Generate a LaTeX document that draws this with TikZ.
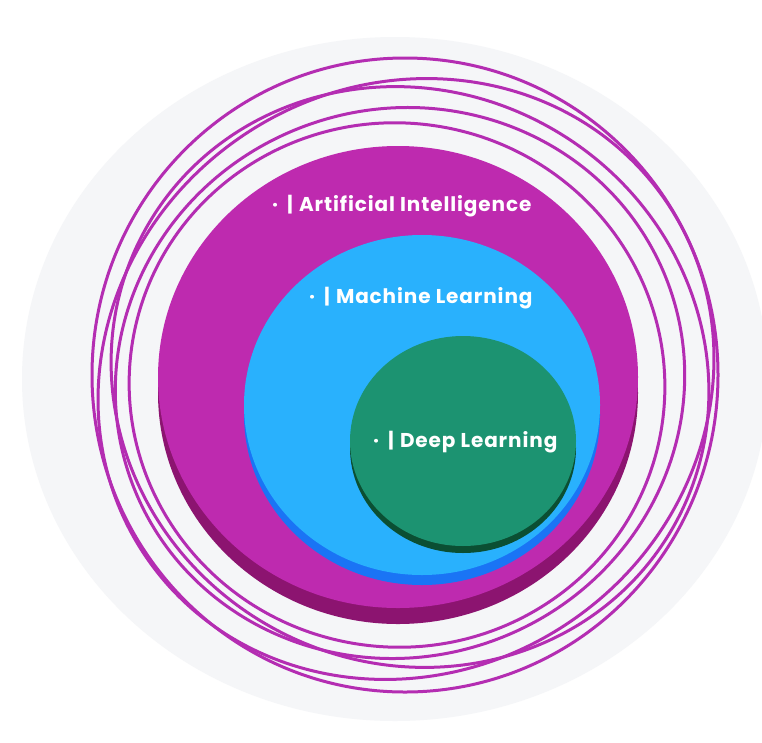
\documentclass[tikz,border=0pt]{standalone}
\usepackage{fontspec}
\setmainfont{Poppins}[LetterSpace=4.5]
\definecolor{bgring}{HTML}{F5F6F8}
\definecolor{aiface}{HTML}{BE2AAF}
\definecolor{airim}{HTML}{8C1470}
\definecolor{mlface}{HTML}{29B1FD}
\definecolor{mlrim}{HTML}{1A74F5}
\definecolor{dlface}{HTML}{1C9371}
\definecolor{dlrim}{HTML}{0B4F33}
\definecolor{ringc}{HTML}{B42DB2}
\tikzset{
  ring/.style={draw=ringc, line width=3pt},
  lbl/.style={anchor=base west, inner sep=0pt, text=white, font=\fontsize{20}{24}\selectfont\bfseries}
}
\begin{document}
\begin{tikzpicture}[x=1pt,y=-1pt]
\useasboundingbox (0,0) rectangle (762,742);
\fill[white] (0,0) rectangle (762,742);
\begin{scope}
\clip (0,0) rectangle (762,742);
\fill[bgring] (395,379) ellipse [x radius=373, y radius=342];
\end{scope}
% rings
\draw[ring] (405,375) ellipse [x radius=313, y radius=317];
\draw[ring, rotate around={35:(406,379)}] (406,379) ellipse [x radius=315, y radius=293];
\draw[ring, rotate around={-30:(410,377)}] (410,377) ellipse [x radius=303, y radius=286];
\draw[ring, rotate around={20:(400,383)}] (400,383) ellipse [x radius=286, y radius=274];
\draw[ring, rotate around={-10:(397,385)}] (397,385) ellipse [x radius=268, y radius=262];
% AI disc
\fill[airim] (398,393) ellipse [x radius=240, y radius=231];
\fill[aiface] (398,377) ellipse [x radius=240, y radius=231];
% ML disc
\fill[mlrim] (422,415) ellipse [x radius=178, y radius=170];
\fill[mlface] (422,405) ellipse [x radius=178, y radius=170];
% DL disc
\fill[dlrim] (463,448) ellipse [x radius=113, y radius=105];
\fill[dlface] (463,441) ellipse [x radius=113, y radius=105];
% labels
\node[lbl] (ai) at (272,211) {·\hspace{9pt}|\hspace{6pt}Artificial Intelligence};
\node[lbl] (ml) at (309,303) {·\hspace{9pt}|\hspace{6pt}Machine Learning};
\node[lbl] (dl) at (373,447) {·\hspace{9pt}|\hspace{6pt}Deep Learning};
\end{tikzpicture}
\end{document}
